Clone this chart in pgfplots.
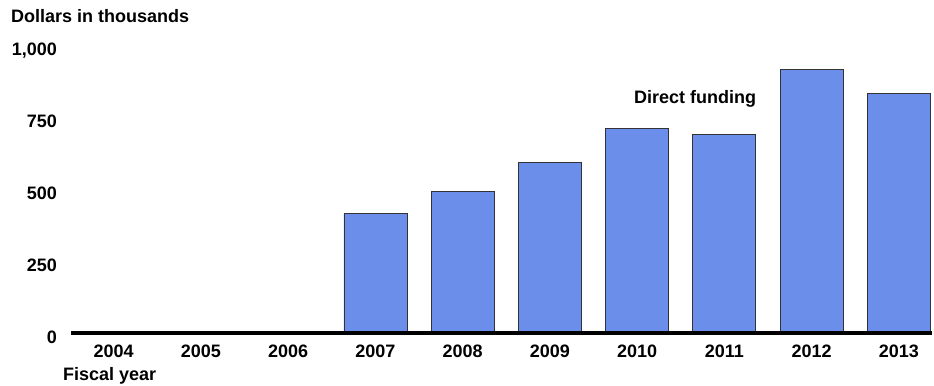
\documentclass[border=0pt]{standalone}
\usepackage{pgfplots}
\pgfplotsset{compat=1.18}
\usepackage{fontspec}
\setmainfont{Liberation Sans}
\definecolor{barblue}{RGB}{106,142,234}
\begin{document}
\begin{tikzpicture}[x=1bp,y=1bp]
\useasboundingbox (0,0) rectangle (934,385);
\begin{axis}[
  at={(71bp,52bp)}, anchor=south west,
  scale only axis, width=861bp, height=288bp,
  xmin=-0.49, xmax=9.38, ymin=0, ymax=1000,
  clip=false, axis on top,
  axis x line*=bottom, axis y line*=left,
  y axis line style={draw=none},
  x axis line style={line width=4bp, black},
  xtick={0,1,2,3,4,5,6,7,8,9},
  xticklabels={2004,2005,2006,2007,2008,2009,2010,2011,2012,2013},
  ytick={0,250,500,750,1000},
  yticklabels={0,250,500,750,{1,000}},
  major tick length=0pt,
  tick style={draw=none},
  ticklabel style={font=\fontsize{18bp}{21bp}\selectfont\bfseries},
  xticklabel style={inner sep=0pt, anchor=north, yshift=-12bp},
  yticklabel style={inner sep=0pt, anchor=base east, xshift=-14bp, yshift=-10.5bp},
]
\addplot[ybar, bar width=63bp, bar shift=0pt, fill=barblue, draw=black!80, line width=0.9bp]
  coordinates {(3,416) (4,493) (5,593) (6,710) (7,690) (8,915) (9,833)};
\end{axis}
\node[anchor=base west, inner sep=0pt, font=\fontsize{18bp}{21bp}\selectfont\bfseries] at (11,362.5) {Dollars in thousands};
\node[anchor=base west, inner sep=0pt, font=\fontsize{18bp}{21bp}\selectfont\bfseries] at (63,4.5) {Fiscal year};
\node[anchor=base west, inner sep=0pt, font=\fontsize{18bp}{21bp}\selectfont\bfseries] at (634,281.5) {Direct funding};
\end{tikzpicture}
\end{document}
